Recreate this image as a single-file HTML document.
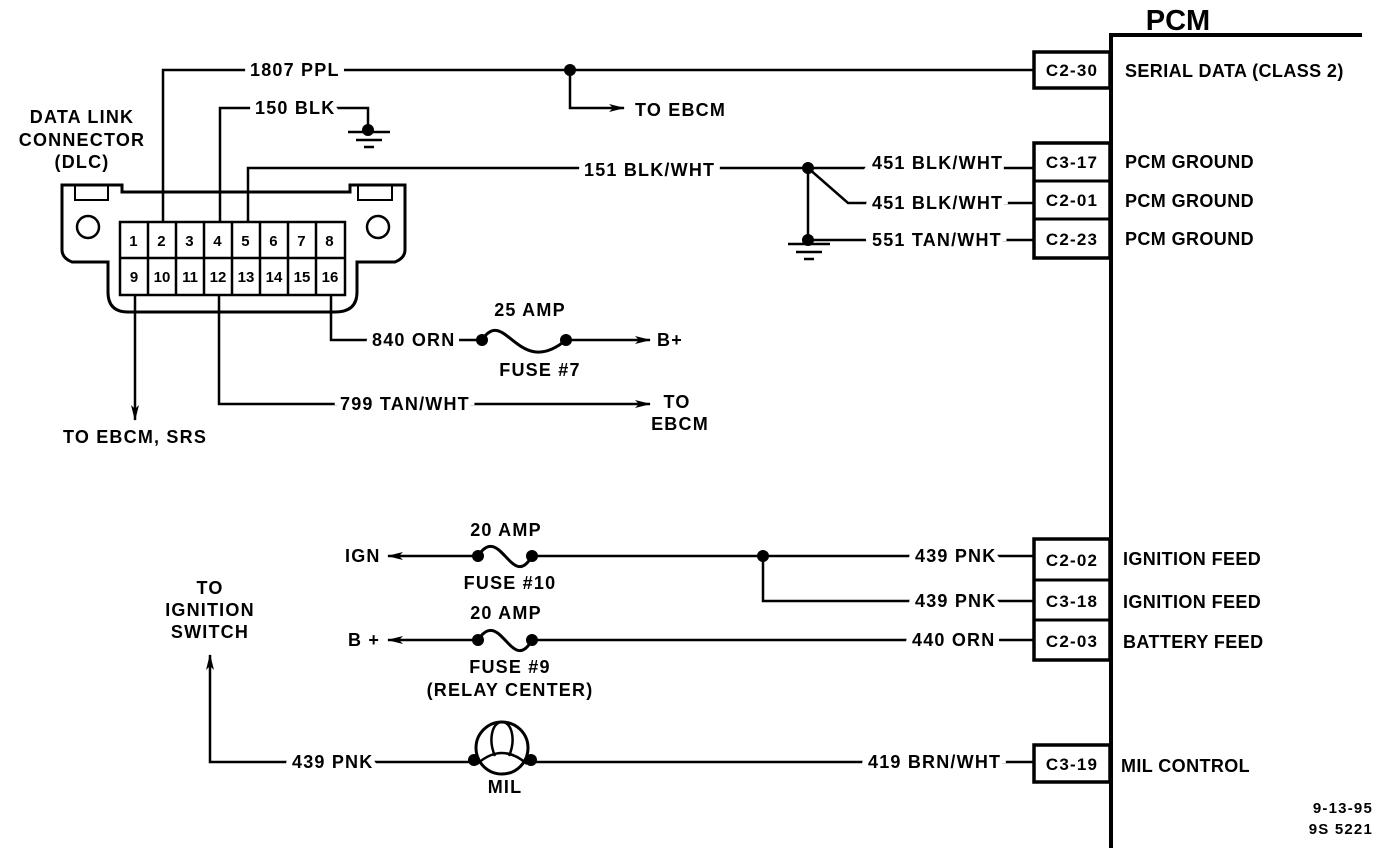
<!DOCTYPE html>
<html><head><meta charset="utf-8"><style>
html,body{margin:0;padding:0;background:#fff}
svg{display:block}
text{font-family:"Liberation Sans",sans-serif;font-weight:bold;fill:#000;letter-spacing:1.2px}
.w{stroke:#fff;stroke-width:12;paint-order:stroke}
.r{letter-spacing:0.4px}
</style></head><body>
<svg width="1392" height="848" viewBox="0 0 1392 848" xmlns="http://www.w3.org/2000/svg">
<defs><marker id="a" viewBox="0 0 16 10" refX="15" refY="5" markerWidth="16" markerHeight="10" orient="auto" markerUnits="userSpaceOnUse"><path d="M0,1 L16,5 L0,9 L4,5 Z" fill="#000"/></marker></defs>
<g stroke="#000" stroke-width="2.5" fill="none">
<path d="M1362,35 H1111 V848" stroke-width="4"/>
<rect x="1034" y="52" width="76" height="36" stroke-width="3.5"/>
<rect x="1034" y="143" width="76" height="115" stroke-width="3.5"/>
<path d="M1034,181 H1110 M1034,219 H1110" stroke-width="3"/>
<rect x="1034" y="539" width="76" height="121" stroke-width="3.5"/>
<path d="M1034,580 H1110 M1034,620 H1110" stroke-width="3"/>
<rect x="1034" y="745" width="76" height="37" stroke-width="3.5"/>
<path d="M62,185 H122 V192 H350 V185 H405 V250 Q405,258 395,262 H357 V292 Q357,312 335,312 H128 Q108,312 108,292 V262 H72 Q62,258 62,250 Z" stroke-width="3"/>
<rect x="120" y="222" width="225" height="73" stroke-width="2.5"/>
<path d="M120,258 H345" />
<path d="M148,222V295 M176,222V295 M204,222V295 M232,222V295 M260,222V295 M288,222V295 M316,222V295"/>
<circle cx="88" cy="227" r="11"/><circle cx="378" cy="227" r="11"/>
<path d="M75,185 V200 H108 V185 M358,185 V200 H392 V185" stroke-width="2"/>
<path d="M163,222 V70 H1034"/>
<path d="M570,70 V108 H624" marker-end="url(#a)"/>
<path d="M220,222 V108 H368 V128"/>
<path d="M348,132 H390 M356,140 H382 M364,147 H374"/>
<path d="M248,222 V168 H1034"/>
<path d="M808,168 L848,203 H1034 M808,168 V240 H1034"/>
<path d="M788,244 H830 M796,252 H822 M804,259 H814"/>
<path d="M331,295 V340 H482"/>
<path d="M482,340 C505,305 518,380 566,340" stroke-width="3"/>
<path d="M566,340 H650" marker-end="url(#a)"/>
<path d="M219,295 V404 H650" marker-end="url(#a)"/>
<path d="M135,295 V420" marker-end="url(#a)"/>
<path d="M478,556 H388" marker-end="url(#a)"/>
<path d="M478,556 C500,522 512,592 532,556" stroke-width="3"/>
<path d="M532,556 H1034"/>
<path d="M763,556 V601 H1034"/>
<path d="M478,640 H388" marker-end="url(#a)"/>
<path d="M478,640 C500,606 512,676 532,640" stroke-width="3"/>
<path d="M532,640 H1034"/>
<path d="M474,762 H210 V655" marker-end="url(#a)"/>
<path d="M531,762 H1034"/>
<circle cx="502" cy="748" r="26" stroke-width="3"/>
<path d="M495,756 C488,740 492,722 502,722 C512,722 516,740 509,756 M477,764 Q502,742 527,764"/>
</g>
<g fill="#000">
<circle cx="570" cy="70" r="6"/><circle cx="368" cy="130" r="6"/>
<circle cx="808" cy="168" r="6"/><circle cx="808" cy="240" r="6"/>
<circle cx="482" cy="340" r="6"/><circle cx="566" cy="340" r="6"/>
<circle cx="478" cy="556" r="6"/><circle cx="532" cy="556" r="6"/><circle cx="763" cy="556" r="6"/>
<circle cx="478" cy="640" r="6"/><circle cx="532" cy="640" r="6"/>
<circle cx="474" cy="760" r="6"/><circle cx="531" cy="760" r="6"/>
</g>
<g font-size="18">
<text x="1178" y="30" font-size="29" text-anchor="middle" style="letter-spacing:0">PCM</text>
<text class="r" x="1125" y="77">SERIAL DATA (CLASS 2)</text>
<text class="r" x="1125" y="168">PCM GROUND</text>
<text class="r" x="1125" y="207">PCM GROUND</text>
<text class="r" x="1125" y="245">PCM GROUND</text>
<text class="r" x="1123" y="565">IGNITION FEED</text>
<text class="r" x="1123" y="608">IGNITION FEED</text>
<text class="r" x="1123" y="648">BATTERY FEED</text>
<text class="r" x="1121" y="772">MIL CONTROL</text>
<g text-anchor="middle" font-size="17">
<text x="1072" y="76">C2-30</text>
<text x="1072" y="168">C3-17</text>
<text x="1072" y="206">C2-01</text>
<text x="1072" y="245">C2-23</text>
<text x="1072" y="566">C2-02</text>
<text x="1072" y="607">C3-18</text>
<text x="1072" y="647">C2-03</text>
<text x="1072" y="770">C3-19</text>
</g>
<text class="w" x="250" y="76">1807 PPL</text>
<text class="w" x="255" y="114">150 BLK</text>
<text class="w" x="584" y="176">151 BLK/WHT</text>
<text class="w" x="872" y="169">451 BLK/WHT</text>
<text class="w" x="872" y="209">451 BLK/WHT</text>
<text class="w" x="872" y="246">551 TAN/WHT</text>
<text class="w" x="372" y="346">840 ORN</text>
<text class="w" x="340" y="410">799 TAN/WHT</text>
<text class="w" x="915" y="562">439 PNK</text>
<text class="w" x="915" y="607">439 PNK</text>
<text class="w" x="912" y="646">440 ORN</text>
<text class="w" x="292" y="768">439 PNK</text>
<text class="w" x="868" y="768">419 BRN/WHT</text>
<text x="635" y="116">TO EBCM</text>
<text x="82" y="123" text-anchor="middle">DATA LINK</text>
<text x="82" y="146" text-anchor="middle">CONNECTOR</text>
<text x="82" y="168" text-anchor="middle">(DLC)</text>
<text x="530" y="316" text-anchor="middle">25 AMP</text>
<text x="657" y="346">B+</text>
<text x="540" y="376" text-anchor="middle">FUSE #7</text>
<text x="677" y="408" text-anchor="middle">TO</text>
<text x="680" y="430" text-anchor="middle">EBCM</text>
<text x="135" y="443" text-anchor="middle">TO EBCM, SRS</text>
<text x="345" y="562">IGN</text>
<text x="506" y="536" text-anchor="middle">20 AMP</text>
<text x="510" y="589" text-anchor="middle">FUSE #10</text>
<text x="348" y="646">B +</text>
<text x="506" y="619" text-anchor="middle">20 AMP</text>
<text x="510" y="673" text-anchor="middle">FUSE #9</text>
<text x="510" y="696" text-anchor="middle">(RELAY CENTER)</text>
<text x="210" y="594" text-anchor="middle">TO</text>
<text x="210" y="616" text-anchor="middle">IGNITION</text>
<text x="210" y="638" text-anchor="middle">SWITCH</text>
<text x="505" y="793" text-anchor="middle">MIL</text>
<text x="1373" y="813" text-anchor="end" font-size="15">9-13-95</text>
<text x="1373" y="834" text-anchor="end" font-size="15">9S 5221</text>
</g>
<g font-size="15" font-weight="bold" text-anchor="middle">
<text x="134" y="246">1</text><text x="162" y="246">2</text><text x="190" y="246">3</text><text x="218" y="246">4</text><text x="246" y="246">5</text><text x="274" y="246">6</text><text x="302" y="246">7</text><text x="330" y="246">8</text>
<text x="134" y="282" style="letter-spacing:0">9</text><text x="162" y="282" style="letter-spacing:0">10</text><text x="190" y="282" style="letter-spacing:0">11</text><text x="218" y="282" style="letter-spacing:0">12</text><text x="246" y="282" style="letter-spacing:0">13</text><text x="274" y="282" style="letter-spacing:0">14</text><text x="302" y="282" style="letter-spacing:0">15</text><text x="330" y="282" style="letter-spacing:0">16</text>
</g>
</svg>
</body></html>
